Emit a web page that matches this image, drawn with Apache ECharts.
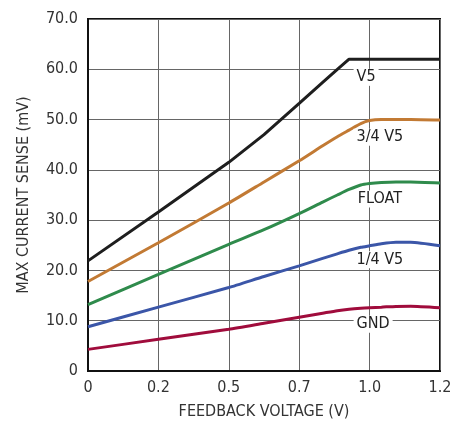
<!DOCTYPE html>
<html>
<head>
<meta charset="utf-8">
<script src="https://cdn.jsdelivr.net/npm/echarts@6/dist/echarts.min.js"></script>
<style>html,body{margin:0;padding:0;background:#fff}#c{width:471px;height:425px}</style>
</head>
<body>
<div id="c"></div>
<script>
const feedbackVoltage = [0, 0.24, 0.48, 0.6, 0.72, 0.8, 0.85, 0.89, 0.93, 0.96, 1.0, 1.05, 1.1, 1.2];
const v5      = [21.9, 31.6, 41.5, 47.0, 53.2, 57.4, 60.0, 62.0, 62.0, 62.0, 62.0, 62.0, 62.0, 62.0];
const v5x34   = [17.8, 25.5, 33.4, 37.6, 41.8, 44.8, 46.6, 47.9, 49.2, 49.8, 50.0, 50.0, 50.0, 49.9];
const floatV  = [13.2, 19.2, 25.2, 28.1, 31.3, 33.6, 35.0, 36.1, 37.0, 37.3, 37.5, 37.6, 37.6, 37.4];
const v5x14   = [8.8, 12.7, 16.6, 18.8, 20.9, 22.4, 23.3, 24.0, 24.6, 24.9, 25.3, 25.6, 25.6, 24.9];
const gnd     = [4.3, 6.3, 8.3, 9.5, 10.7, 11.5, 12.0, 12.3, 12.5, 12.6, 12.7, 12.85, 12.9, 12.6];
const xTickLabels = ['0', '0.2', '0.5', '0.7', '1.0', '1.2'];
const seriesNames = ['V5', '3/4 V5', 'FLOAT', '1/4 V5', 'GND'];

const FONT = "'Liberation Sans Narrow', 'DejaVu Sans Condensed', 'Roboto', sans-serif";
const pair = arr => feedbackVoltage.map((x, i) => [x, arr[i]]);

function mkSeries(name, data, color, smooth, labelCoord) {
  return {
    name: name, type: 'line', data: pair(data), showSymbol: false, symbol: 'none',
    smooth: smooth,
    lineStyle: { color: color, width: 3 },
    z: 3,
    markPoint: {
      symbol: 'rect', symbolSize: 0, silent: true,
      data: [{ coord: labelCoord }],
      label: {
        show: true, formatter: name, color: '#222', fontFamily: FONT, fontSize: 16,
        backgroundColor: '#fff', padding: [1, 3, 0, 3]
      }
    }
  };
}

const chart = echarts.init(document.getElementById('c'));
chart.setOption({
  animation: false,
  backgroundColor: '#fff',
  grid: { left: 88, right: 31, top: 19, bottom: 54, show: true, borderColor: '#111', borderWidth: 2, backgroundColor: 'transparent' },
  xAxis: {
    type: 'value', min: 0, max: 1.2, interval: 0.24,
    name: 'FEEDBACK VOLTAGE (V)', nameLocation: 'middle', nameGap: 33,
    nameTextStyle: { fontFamily: FONT, fontSize: 16, color: '#333' },
    axisLine: { show: true, lineStyle: { color: '#111', width: 2 } },
    axisTick: { show: false },
    axisLabel: { margin: 9, fontFamily: FONT, fontSize: 16, color: '#333',
      formatter: (v, i) => xTickLabels[i] },
    splitLine: { show: true, lineStyle: { color: '#666', width: 1 } }
  },
  yAxis: {
    type: 'value', min: 0, max: 70, interval: 10,
    name: 'MAX CURRENT SENSE (mV)', nameLocation: 'middle', nameGap: 56,
    nameTextStyle: { fontFamily: FONT, fontSize: 16, color: '#333' },
    axisLine: { show: true, lineStyle: { color: '#111', width: 2 } },
    axisTick: { show: false },
    axisLabel: { margin: 10, fontFamily: FONT, fontSize: 16, color: '#333',
      formatter: v => v === 0 ? '0' : v.toFixed(1) },
    splitLine: { show: true, lineStyle: { color: '#666', width: 1 } }
  },
  series: [
    mkSeries(seriesNames[0], v5, '#1e1e1e', false, [0.948, 58.4]),
    mkSeries(seriesNames[1], v5x34, '#c27a34', 0.2, [0.995, 46.5]),
    mkSeries(seriesNames[2], floatV, '#2f8b4c', 0.2, [0.995, 34.2]),
    mkSeries(seriesNames[3], v5x14, '#3b56a8', 0.2, [0.995, 22.1]),
    mkSeries(seriesNames[4], gnd, '#a00c3c', 0.2, [0.972, 9.3])
  ]
});
</script>
</body>
</html>
